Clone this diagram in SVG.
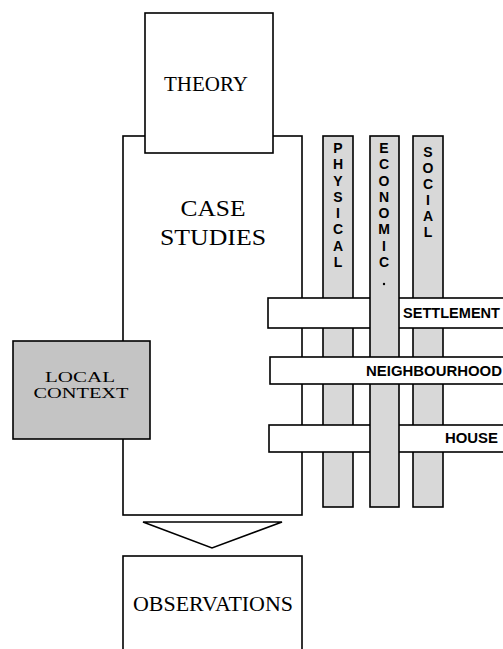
<svg xmlns="http://www.w3.org/2000/svg" width="503" height="649" viewBox="0 0 503 649">
<style>
.box{fill:#fff;stroke:#000;stroke-width:1.6}
.col{fill:#d8d8d8;stroke:#000;stroke-width:1.6}
.ctx{fill:#c4c4c4;stroke:#000;stroke-width:1.6}
.serif{font-family:"Liberation Serif","Times New Roman",serif;fill:#000}
.sans{font-family:"Liberation Sans",Arial,sans-serif;font-weight:bold;fill:#000}
.vl{font-family:"Liberation Sans",Arial,sans-serif;font-weight:bold;font-size:14px;text-anchor:middle;fill:#000}
</style>
<rect width="503" height="649" fill="#fff"/>
<g id="case-studies">
<rect class="box" x="123" y="136" width="179" height="379"/>
<text class="serif" x="213" y="216" font-size="23" text-anchor="middle" textLength="65" lengthAdjust="spacingAndGlyphs">CASE</text>
<text class="serif" x="213" y="245" font-size="23" text-anchor="middle" textLength="106" lengthAdjust="spacingAndGlyphs">STUDIES</text>
</g>
<g id="theory">
<rect class="box" x="145" y="13" width="128" height="140"/>
<text class="serif" x="206" y="91" font-size="21" text-anchor="middle" textLength="84" lengthAdjust="spacingAndGlyphs">THEORY</text>
</g>
<g id="local-context">
<rect class="ctx" x="13" y="341" width="137" height="98"/>
<text class="serif" x="80" y="382" font-size="15" text-anchor="middle" textLength="70" lengthAdjust="spacingAndGlyphs">LOCAL</text>
<text class="serif" x="81" y="398" font-size="15" text-anchor="middle" textLength="95" lengthAdjust="spacingAndGlyphs">CONTEXT</text>
</g>
<g id="physical">
<rect class="col" x="323" y="136" width="30" height="371"/>
<text class="vl" x="338" y="153">P</text>
<text class="vl" x="338" y="169">H</text>
<text class="vl" x="338" y="186">Y</text>
<text class="vl" x="338" y="202">S</text>
<text class="vl" x="338" y="218">I</text>
<text class="vl" x="338" y="234">C</text>
<text class="vl" x="338" y="251">A</text>
<text class="vl" x="338" y="267">L</text>
</g>
<g id="social">
<rect class="col" x="413" y="136" width="30" height="371"/>
<text class="vl" x="428" y="157">S</text>
<text class="vl" x="428" y="173">O</text>
<text class="vl" x="428" y="189">C</text>
<text class="vl" x="428" y="205">I</text>
<text class="vl" x="428" y="221">A</text>
<text class="vl" x="428" y="237">L</text>
</g>
<g id="settlement">
<rect class="box" x="268" y="298" width="245" height="30"/>
<text class="sans" x="500" y="318" font-size="14" text-anchor="end" textLength="97" lengthAdjust="spacingAndGlyphs">SETTLEMENT</text>
</g>
<g id="house">
<rect class="box" x="269" y="425" width="244" height="27"/>
<text class="sans" x="498" y="443" font-size="14" text-anchor="end" textLength="53" lengthAdjust="spacingAndGlyphs">HOUSE</text>
</g>
<g id="economic">
<rect class="col" x="370" y="136" width="29" height="371"/>
<text class="vl" x="384" y="153">E</text>
<text class="vl" x="384" y="169">C</text>
<text class="vl" x="384" y="186">O</text>
<text class="vl" x="384" y="202">N</text>
<text class="vl" x="384" y="218">O</text>
<text class="vl" x="384" y="234">M</text>
<text class="vl" x="384" y="251">I</text>
<text class="vl" x="384" y="267">C</text>
<circle cx="384" cy="284" r="1.2" fill="#000"/>
</g>
<g id="neighbourhood">
<rect class="box" x="270" y="357" width="243" height="27"/>
<text class="sans" x="502" y="376" font-size="14" text-anchor="end" textLength="136" lengthAdjust="spacingAndGlyphs">NEIGHBOURHOOD</text>
</g>
<g id="connectors">
<polygon class="box" points="143,522 282,522 212,548"/>
</g>
<g id="observations">
<rect class="box" x="123" y="556" width="179" height="110"/>
<text class="serif" x="213" y="611" font-size="20" text-anchor="middle" textLength="160" lengthAdjust="spacingAndGlyphs">OBSERVATIONS</text>
</g>
</svg>
